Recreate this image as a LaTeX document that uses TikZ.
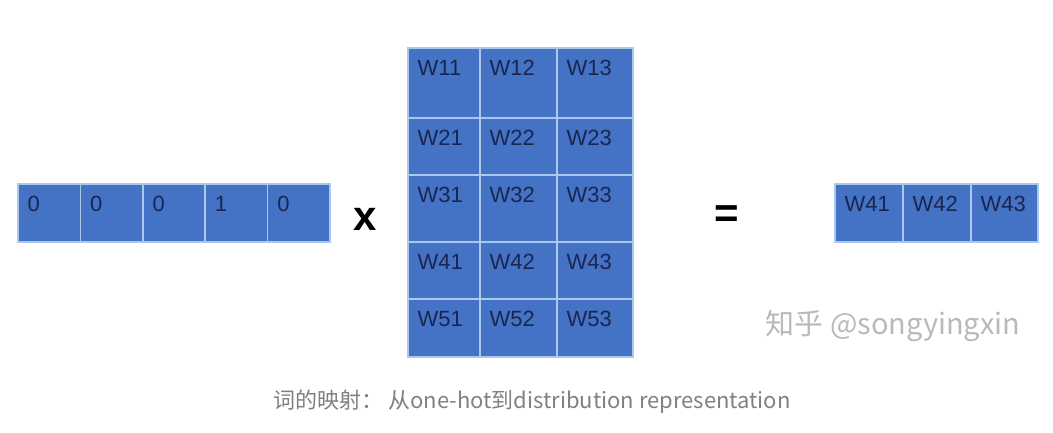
\documentclass[tikz,border=0pt]{standalone}
\usepackage{fontspec}
\setmainfont{Liberation Sans}
\newfontfamily\cjkfont{Noto Sans CJK SC}
\definecolor{cellblue}{RGB}{68,114,196}
\definecolor{cellline}{RGB}{170,200,236}
\definecolor{celltext}{RGB}{26,38,80}
\definecolor{wmgray}{RGB}{185,185,185}
\definecolor{capgray}{RGB}{128,128,128}
\tikzset{
  cellbox/.style={fill=cellblue, draw=cellline, line width=1.6pt, anchor=north west, inner sep=0pt, outer sep=0pt},
  celltxt/.style={anchor=north west, inner sep=0pt, text=celltext, font=\fontsize{22}{22}\selectfont},
  opsym/.style={font=\fontsize{42}{42}\selectfont\bfseries, text=black, inner sep=0pt},
}
% \mkcell{name}{x}{y}{w}{h}{text}
\newcommand{\mkcell}[6]{%
  \node[cellbox, minimum width=#4pt, minimum height=#5pt] (#1) at (#2,#3) {};
  \node[celltxt] (#1t) at ([xshift=9.5pt,yshift=-12pt]#1.north west) {#6};
}
\begin{document}
\begin{tikzpicture}[x=1pt,y=-1pt]
\useasboundingbox (0,0) rectangle (1053,433);
% one-hot vector
\mkcell{v1}{18}{184}{62.4}{58}{0}
\mkcell{v2}{80.4}{184}{62.4}{58}{0}
\mkcell{v3}{142.8}{184}{62.4}{58}{0}
\mkcell{v4}{205.2}{184}{62.4}{58}{1}
\mkcell{v5}{267.6}{184}{62.4}{58}{0}
% times
\node[opsym] (times) at (365,219) {x};
% matrix
\foreach \r/\y/\h in {1/48/70,2/118/57,3/175/67,4/242/57,5/299/58}{
  \mkcell{m\r1}{408}{\y}{72}{\h}{W\r1}
  \mkcell{m\r2}{480}{\y}{77}{\h}{W\r2}
  \mkcell{m\r3}{557}{\y}{76}{\h}{W\r3}
}
% equals
\node[opsym] (eq) at (727,217) {=};
% result
\mkcell{r1}{835}{184}{68}{58}{W41}
\mkcell{r2}{903}{184}{68}{58}{W42}
\mkcell{r3}{971}{184}{67}{58}{W43}
% watermark
\node[text=wmgray, font=\cjkfont\fontsize{29}{29}\selectfont, inner sep=0pt] (wm) at (893,326) {知乎 @songyingxin};
% caption
\node[text=capgray, font=\cjkfont\fontsize{22}{22}\selectfont, inner sep=0pt] (cap) at (532,402) {词的映射：\ 从one-hot到distribution representation};
\end{tikzpicture}
\end{document}
